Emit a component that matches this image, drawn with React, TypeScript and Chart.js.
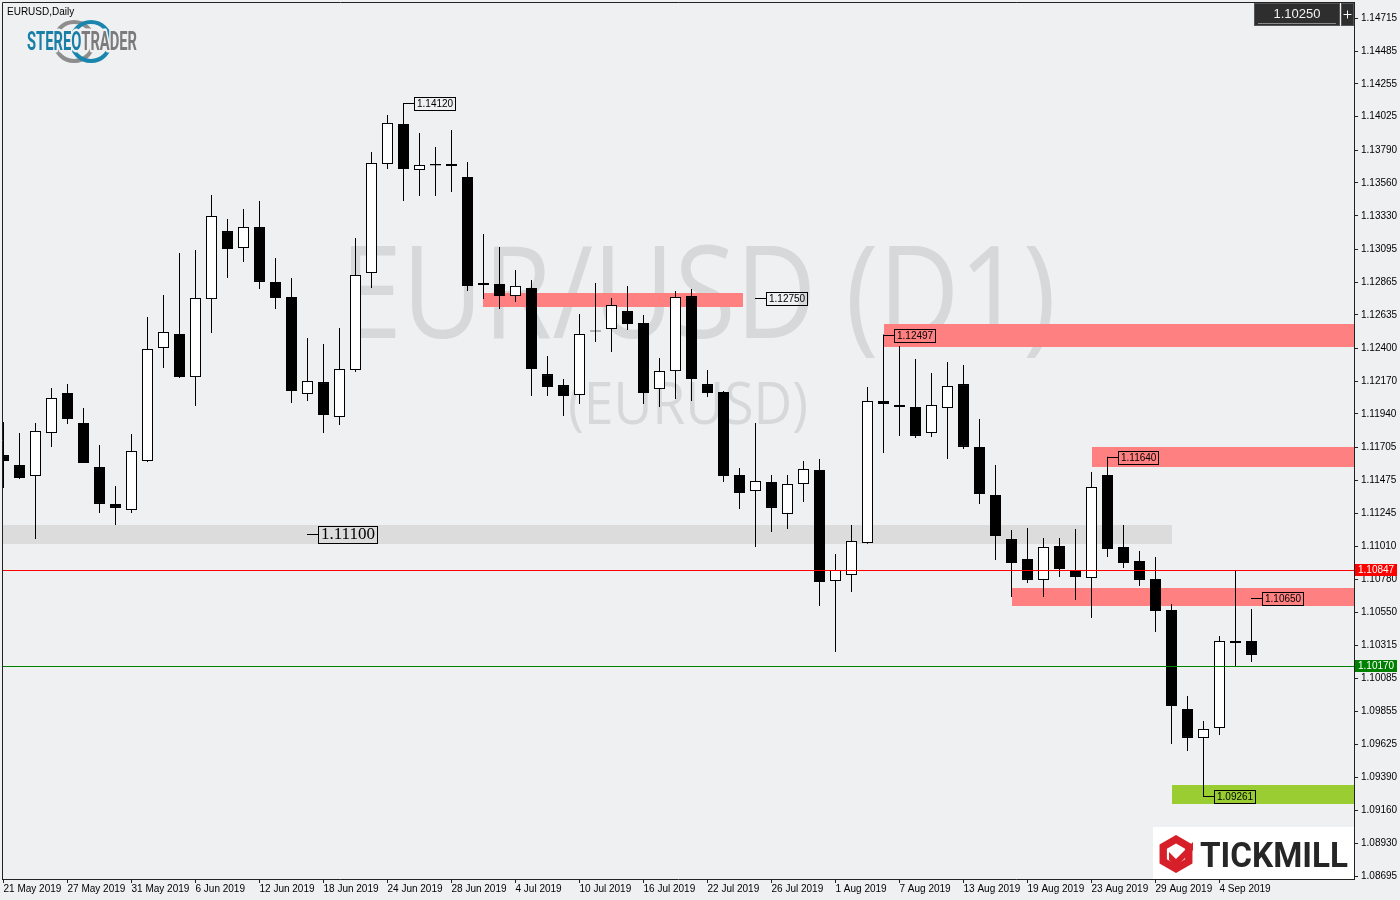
import React, { useEffect, useRef } from 'react';
import { Chart, registerables } from 'chart.js';

Chart.register(...registerables);

// ---------- data (EURUSD daily, 21 May 2019 – 6 Sep 2019) ----------
const openPrices = [
  1.11652, 1.11582, 1.11505, 1.11807, 1.12087, 1.11877, 1.11568, 1.11309, 1.11267, 1.11610,
  1.12403, 1.12501, 1.12199, 1.12746, 1.13223, 1.13104, 1.13251, 1.12866, 1.12760, 1.12080,
  1.12164, 1.11919, 1.12248, 1.12929, 1.13693, 1.13974, 1.13651, 1.13693, 1.13679, 1.13602,
  1.12859, 1.12852, 1.12767, 1.12824, 1.12220, 1.12143, 1.12073, 1.12526, 1.12536, 1.12662,
  1.12578, 1.12115, 1.12241, 1.12767, 1.12150, 1.12094, 1.11512, 1.11400, 1.11463, 1.11239,
  1.11449, 1.11547, 1.10769, 1.10811, 1.11035, 1.12031, 1.12003, 1.11989, 1.11807, 1.11982,
  1.12150, 1.11709, 1.11372, 1.11063, 1.10923, 1.10776, 1.11014, 1.10846, 1.10790, 1.11512,
  1.11007, 1.10909, 1.10783, 1.10565, 1.09871, 1.09668, 1.09738, 1.10334, 1.10348,
];
const highPrices = [
  1.11884, 1.11807, 1.11877, 1.12122, 1.12150, 1.11982, 1.11723, 1.11435, 1.11800, 1.12620,
  1.12774, 1.13069, 1.13090, 1.13476, 1.13307, 1.13378, 1.13434, 1.13034, 1.12894, 1.12473,
  1.12431, 1.12543, 1.13174, 1.13777, 1.14037, 1.14120, 1.13911, 1.13812, 1.13932, 1.13707,
  1.13202, 1.13111, 1.12950, 1.12880, 1.12347, 1.12185, 1.12641, 1.12859, 1.12753, 1.12838,
  1.12634, 1.12333, 1.12803, 1.12817, 1.12248, 1.12101, 1.11561, 1.11877, 1.11512, 1.11512,
  1.11610, 1.11624, 1.10958, 1.11161, 1.12129, 1.12497, 1.12417, 1.12326, 1.12227, 1.12305,
  1.12284, 1.11905, 1.11582, 1.11126, 1.11140, 1.11070, 1.11070, 1.11133, 1.11533, 1.11640,
  1.11161, 1.10979, 1.10937, 1.10607, 1.09962, 1.09787, 1.10383, 1.10845, 1.10572,
];
const lowPrices = [
  1.11421, 1.11484, 1.11063, 1.11709, 1.11870, 1.11596, 1.11246, 1.11161, 1.11246, 1.11603,
  1.12263, 1.12192, 1.11996, 1.12508, 1.12894, 1.13006, 1.12817, 1.12676, 1.12017, 1.12031,
  1.11807, 1.11863, 1.12234, 1.12824, 1.13658, 1.13434, 1.13469, 1.13469, 1.13497, 1.12803,
  1.12746, 1.12676, 1.12725, 1.12066, 1.12066, 1.11926, 1.12010, 1.12445, 1.12375, 1.12529,
  1.12010, 1.11989, 1.12045, 1.12031, 1.12059, 1.11463, 1.11274, 1.11007, 1.11112, 1.11133,
  1.11323, 1.10593, 1.10271, 1.10692, 1.11030, 1.11666, 1.11786, 1.11772, 1.11779, 1.11624,
  1.11694, 1.11309, 1.10916, 1.10657, 1.10755, 1.10657, 1.10797, 1.10636, 1.10509, 1.10937,
  1.10860, 1.10734, 1.10411, 1.09626, 1.09577, 1.09261, 1.09689, 1.10173, 1.10201,
];
const closePrices = [
  1.11610, 1.11491, 1.11821, 1.12052, 1.11905, 1.11596, 1.11309, 1.11281, 1.11680, 1.12396,
  1.12515, 1.12199, 1.12753, 1.13328, 1.13097, 1.13251, 1.12866, 1.12753, 1.12101, 1.12171,
  1.11933, 1.12255, 1.12915, 1.13700, 1.13981, 1.13658, 1.13686, 1.13683, 1.13693, 1.12838,
  1.12845, 1.12767, 1.12838, 1.12255, 1.12129, 1.12066, 1.12501, 1.12518, 1.12704, 1.12571,
  1.12087, 1.12241, 1.12760, 1.12185, 1.12087, 1.11505, 1.11386, 1.11470, 1.11281, 1.11449,
  1.11554, 1.10762, 1.10846, 1.11049, 1.12031, 1.12010, 1.11989, 1.11786, 1.12003, 1.12136,
  1.11709, 1.11379, 1.11084, 1.10895, 1.10776, 1.11007, 1.10853, 1.10797, 1.11428, 1.10993,
  1.10895, 1.10776, 1.10558, 1.09892, 1.09668, 1.09731, 1.10348, 1.10348, 1.10250,
];

const dateTickLabels = [
  '21 May 2019', '27 May 2019', '31 May 2019', '6 Jun 2019', '12 Jun 2019', '18 Jun 2019',
  '24 Jun 2019', '28 Jun 2019', '4 Jul 2019', '10 Jul 2019', '16 Jul 2019', '22 Jul 2019',
  '26 Jul 2019', '1 Aug 2019', '7 Aug 2019', '13 Aug 2019', '19 Aug 2019', '23 Aug 2019',
  '29 Aug 2019', '4 Sep 2019',
];
const barsPerDateTick = 4;

const priceTicks = [
  1.14715, 1.14485, 1.14255, 1.14025, 1.13790, 1.13560, 1.13330, 1.13095, 1.12865, 1.12635,
  1.12400, 1.12170, 1.11940, 1.11705, 1.11475, 1.11245, 1.11010, 1.10780, 1.10550, 1.10315,
  1.10085, 1.09855, 1.09625, 1.09390, 1.09160, 1.08930, 1.08695,
];

// zones (bar index from/to; null = edge of chart), price top/bottom
const zoneFrom = [null, 30, 55, 68, 63, 73];
const zoneTo = [73, 46.2, null, null, null, null];
const zoneTop = [1.11161, 1.12789, 1.12571, 1.11709, 1.10720, 1.09338];
const zoneBottom = [1.11028, 1.12690, 1.12410, 1.11568, 1.10593, 1.09205];
const zoneKinds = ['grey', 'red', 'red', 'red', 'red', 'green'];

// price labels: value and bar index where the connector starts
const labelValues = [1.14120, 1.12750, 1.12497, 1.11640, 1.10650, 1.09261, 1.11100];
const labelAnchors = [25, 47, 55, 69, 78, 75, 19];
const labelBig = [false, false, false, false, false, false, true];

const hLineValues = [1.10847, 1.10170];
const hLineKinds = ['red', 'green'];
const currentPrice = 1.10250;

const symbolTitle = 'EURUSD,Daily';
const watermarkMain = 'EUR/USD (D1)';
const watermarkSub = '(EURUSD)';

const X_MIN = -0.09375;
const X_MAX = 84.40625;
const Y_MIN = 1.086788;
const Y_MAX = 1.148293;

const BG = '#eff0f2';
const AXIS = '#222222';
const ZONE_COLORS: Record<string, string> = { grey: '#dcdcdc', red: '#ff8080', green: '#9acd32' };
const LINE_COLORS: Record<string, string> = { red: '#ff0000', green: '#008000' };
const UI_FONT = '"Liberation Sans", Arial, sans-serif';

function drawLogoStereo(ctx: CanvasRenderingContext2D) {
  ctx.save();
  ctx.lineWidth = 4;
  ctx.strokeStyle = '#8d8d8d';
  ctx.beginPath();
  ctx.arc(74, 41.5, 19.5, 0, Math.PI * 2);
  ctx.stroke();
  ctx.strokeStyle = '#1a86ae';
  ctx.beginPath();
  ctx.arc(91, 41.5, 19.5, 0, Math.PI * 2);
  ctx.stroke();
  ctx.font = 'bold 25px Roboto, "Liberation Sans", sans-serif';
  ctx.textBaseline = 'alphabetic';
  const w1 = ctx.measureText('STEREO').width;
  const w2 = ctx.measureText('TRADER').width;
  const sx = 110 / (w1 + w2);
  ctx.translate(27, 50);
  ctx.scale(sx, 1);
  ctx.lineJoin = 'round';
  ctx.lineWidth = 5;
  ctx.strokeStyle = BG;
  ctx.strokeText('STEREO', 0, 0);
  ctx.strokeText('TRADER', w1, 0);
  ctx.fillStyle = '#1a7fa7';
  ctx.fillText('STEREO', 0, 0);
  ctx.fillStyle = '#7b7b7b';
  ctx.fillText('TRADER', w1, 0);
  ctx.restore();
}

function drawLogoTickmill(ctx: CanvasRenderingContext2D, right: number, bottom: number) {
  ctx.save();
  const x0 = right - 201;
  const y0 = bottom - 52;
  ctx.fillStyle = '#ffffff';
  ctx.fillRect(x0, y0, 201, 52);
  const cx = x0 + 23;
  const cy = y0 + 27;
  const hex = (r: number) => {
    ctx.beginPath();
    for (let k = 0; k < 6; k++) {
      const a = Math.PI / 6 + (k * Math.PI) / 3;
      const px = cx + r * Math.cos(a);
      const py = cy + r * Math.sin(a);
      if (k === 0) ctx.moveTo(px, py);
      else ctx.lineTo(px, py);
    }
    ctx.closePath();
  };
  ctx.fillStyle = '#d71f2a';
  hex(19);
  ctx.fill();
  ctx.fillStyle = '#ffffff';
  hex(10.5);
  ctx.fill();
  ctx.fillStyle = '#d71f2a';
  ctx.beginPath();
  ctx.moveTo(cx - 7, cy - 2);
  ctx.lineTo(cx, cy + 5);
  ctx.lineTo(cx + 17, cy - 12);
  ctx.lineTo(cx + 17, cy - 4);
  ctx.lineTo(cx, cy + 13);
  ctx.lineTo(cx - 7, cy + 6);
  ctx.closePath();
  ctx.fill();
  ctx.font = 'bold 35px Roboto, "Liberation Sans", sans-serif';
  ctx.textBaseline = 'alphabetic';
  const w = ctx.measureText('TICKMILL').width;
  ctx.translate(x0 + 47, y0 + 40);
  ctx.scale(148 / w, 1);
  ctx.fillStyle = '#262626';
  ctx.fillText('TICKMILL', 0, 0);
  ctx.restore();
}

const mt4Plugin = {
  id: 'mt4Decor',
  beforeDraw(chart: any) {
    const { ctx, width, height } = chart;
    ctx.save();
    ctx.fillStyle = BG;
    ctx.fillRect(0, 0, width, height);
    ctx.restore();
  },
  beforeDatasetsDraw(chart: any) {
    const { ctx, chartArea: ca, scales } = chart;
    const xs = scales.x;
    const ys = scales.y;
    ctx.save();
    ctx.beginPath();
    ctx.rect(ca.left, ca.top, ca.right - ca.left, ca.bottom - ca.top);
    ctx.clip();
    // watermark
    ctx.fillStyle = '#d7d8da';
    ctx.textBaseline = 'alphabetic';
    ctx.font = '400 128px "Open Sans", Lato, sans-serif';
    const wm = ctx.measureText(watermarkMain).width;
    ctx.save();
    ctx.translate(ca.left + 338, ca.top + 336);
    ctx.scale(716 / wm, 1);
    ctx.fillText(watermarkMain, 0, 0);
    ctx.restore();
    ctx.font = '400 58px "Open Sans", Lato, sans-serif';
    const ws = ctx.measureText(watermarkSub).width;
    ctx.save();
    ctx.translate(ca.left + 566, ca.top + 422);
    ctx.scale(240 / ws, 1);
    ctx.fillText(watermarkSub, 0, 0);
    ctx.restore();
    // zones
    for (let k = 0; k < zoneTop.length; k++) {
      const fromIdx = zoneFrom[k];
      const toIdx = zoneTo[k];
      const x0 = fromIdx === null ? ca.left : Math.round(xs.getPixelForValue(fromIdx));
      const x1 = toIdx === null ? ca.right : Math.round(xs.getPixelForValue(toIdx));
      const y0 = Math.round(ys.getPixelForValue(zoneTop[k]));
      const y1 = Math.round(ys.getPixelForValue(zoneBottom[k]));
      ctx.fillStyle = ZONE_COLORS[zoneKinds[k]];
      ctx.fillRect(x0, y0, x1 - x0, y1 - y0);
    }
    ctx.restore();
  },
  afterDatasetsDraw(chart: any) {
    const { ctx, chartArea: ca, scales } = chart;
    const xs = scales.x;
    const ys = scales.y;
    ctx.save();
    ctx.beginPath();
    ctx.rect(ca.left, ca.top, ca.right - ca.left, ca.bottom - ca.top);
    ctx.clip();
    ctx.lineWidth = 1;
    hLineValues.forEach((v, k) => {
      const y = Math.round(ys.getPixelForValue(v)) + 0.5;
      ctx.strokeStyle = LINE_COLORS[hLineKinds[k]];
      ctx.beginPath();
      ctx.moveTo(ca.left, y);
      ctx.lineTo(ca.right, y);
      ctx.stroke();
    });
    ctx.strokeStyle = '#000';
    ctx.fillStyle = '#000';
    ctx.textBaseline = 'middle';
    labelValues.forEach((v, k) => {
      const big = labelBig[k];
      const text = v.toFixed(5);
      ctx.font = big ? '17px "Liberation Serif", serif' : '10px ' + UI_FONT;
      const h = big ? 17 : 13;
      const ax = Math.floor(xs.getPixelForValue(labelAnchors[k]));
      const y = Math.round(ys.getPixelForValue(v));
      const bx = ax + 11;
      const w = Math.round(ctx.measureText(text).width) + 5;
      ctx.beginPath();
      ctx.moveTo(ax, y + 0.5);
      ctx.lineTo(bx, y + 0.5);
      ctx.stroke();
      const by = Math.round(y - h / 2);
      ctx.strokeRect(bx + 0.5, by + 0.5, w, h);
      ctx.fillText(text, bx + 3, y + 1);
    });
    ctx.restore();
  },
  afterDraw(chart: any) {
    const { ctx, chartArea: ca, scales } = chart;
    const ys = scales.y;
    ctx.save();
    ctx.strokeStyle = AXIS;
    ctx.lineWidth = 1;
    ctx.beginPath();
    ctx.moveTo(ca.left + 0.5, ca.bottom);
    ctx.lineTo(ca.left + 0.5, ca.top + 0.5);
    ctx.lineTo(ca.right, ca.top + 0.5);
    ctx.stroke();
    ctx.font = '10px ' + UI_FONT;
    ctx.textBaseline = 'middle';
    hLineValues.forEach((v, k) => {
      const y = Math.round(ys.getPixelForValue(v));
      ctx.fillStyle = LINE_COLORS[hLineKinds[k]];
      ctx.fillRect(ca.right + 1, y - 6, 42, 12);
      ctx.fillStyle = '#ffffff';
      ctx.fillText(v.toFixed(5), ca.right + 4, y + 0.5);
    });
    ctx.fillStyle = '#000';
    ctx.textBaseline = 'alphabetic';
    ctx.font = '10px ' + UI_FONT;
    ctx.fillText(symbolTitle, 7, 15);
    drawLogoStereo(ctx);
    drawLogoTickmill(ctx, ca.right, ca.bottom);
    const bx = ca.right - 100;
    ctx.fillStyle = '#2e2e2e';
    ctx.fillRect(bx, 3, 86, 23);
    ctx.strokeStyle = '#555';
    ctx.strokeRect(bx + 0.5, 3.5, 85, 22);
    ctx.strokeStyle = '#8a8a8a';
    ctx.beginPath();
    ctx.moveTo(bx + 4, 23.5);
    ctx.lineTo(bx + 82, 23.5);
    ctx.stroke();
    ctx.fillStyle = '#f2f2f2';
    ctx.font = '13px ' + UI_FONT;
    ctx.textAlign = 'center';
    ctx.textBaseline = 'middle';
    ctx.fillText(currentPrice.toFixed(5), bx + 43, 14.5);
    ctx.fillStyle = '#2e2e2e';
    ctx.fillRect(bx + 87, 3, 13, 23);
    ctx.strokeStyle = '#555';
    ctx.strokeRect(bx + 87.5, 3.5, 12, 22);
    ctx.strokeStyle = '#ffffff';
    const cx = bx + 93.5;
    const cy = 14.5;
    ctx.beginPath();
    ctx.moveTo(cx - 4, cy);
    ctx.lineTo(cx + 4, cy);
    ctx.moveTo(cx, cy - 4);
    ctx.lineTo(cx, cy + 4);
    ctx.stroke();
    ctx.restore();
  },
};

export default function App() {
  const ref = useRef<HTMLCanvasElement | null>(null);
  useEffect(() => {
    document.body.style.margin = '0';
    document.body.style.background = BG;
    const canvas = ref.current;
    if (!canvas) return;
    const bodies = openPrices.map((o, i) => ({ x: i, y: [o, closePrices[i]] }));
    const wicks = lowPrices.map((l, i) => ({ x: i, y: [l, highPrices[i]] }));
    const chart = new Chart(canvas, {
      type: 'bar',
      data: {
        datasets: [
          {
            label: 'body',
            data: bodies as any,
            order: 0,
            grouped: false,
            barThickness: 11,
            borderWidth: 1,
            borderSkipped: false,
            inflateAmount: 0,
            borderColor: '#000000',
            backgroundColor: (c: any) =>
              c.dataIndex !== undefined && closePrices[c.dataIndex] >= openPrices[c.dataIndex] ? '#ffffff' : '#000000',
          } as any,
          {
            label: 'wick',
            data: wicks as any,
            order: 1,
            grouped: false,
            barThickness: 1,
            borderWidth: 0,
            inflateAmount: 0,
            backgroundColor: '#000000',
          } as any,
        ],
      },
      options: {
        responsive: false,
        animation: false,
        devicePixelRatio: 1,
        events: [],
        layout: { padding: { left: 2, top: 2, right: 0, bottom: 0 } },
        plugins: { legend: { display: false }, tooltip: { enabled: false }, title: { display: false } },
        scales: {
          x: {
            type: 'linear',
            position: 'bottom',
            min: X_MIN,
            max: X_MAX,
            offset: false,
            grid: { display: true, drawOnChartArea: false, drawTicks: true, tickLength: 4, color: AXIS, offset: false },
            border: { display: true, color: AXIS, width: 1 },
            ticks: {
              autoSkip: false,
              maxRotation: 0,
              minRotation: 0,
              align: 'start',
              padding: 0,
              color: '#000',
              font: { family: UI_FONT, size: 10 },
              callback: (_v: any, idx: number) => dateTickLabels[idx],
            },
            afterBuildTicks: (s: any) => {
              s.ticks = dateTickLabels.map((_, k) => ({ value: k * barsPerDateTick }));
            },
            afterFit: (s: any) => {
              s.height = 21;
              s.paddingLeft = 0;
              s.paddingRight = 0;
            },
          },
          y: {
            type: 'linear',
            position: 'right',
            min: Y_MIN,
            max: Y_MAX,
            grid: { display: true, drawOnChartArea: false, drawTicks: true, tickLength: 4, color: AXIS },
            border: { display: true, color: AXIS, width: 1 },
            ticks: {
              padding: 3,
              color: '#000',
              font: { family: UI_FONT, size: 10 },
              callback: (v: any) => Number(v).toFixed(5),
            },
            afterBuildTicks: (s: any) => {
              s.ticks = priceTicks.map((v) => ({ value: v }));
            },
            afterFit: (s: any) => {
              s.width = 46;
              s.paddingTop = 0;
              s.paddingBottom = 0;
            },
          },
        },
      } as any,
      plugins: [mt4Plugin as any],
    });
    return () => chart.destroy();
  }, []);
  return (
    <div style={{ width: 1400, height: 900 }}>
      <canvas ref={ref} width={1400} height={900} style={{ display: 'block', width: 1400, height: 900 }} />
    </div>
  );
}
